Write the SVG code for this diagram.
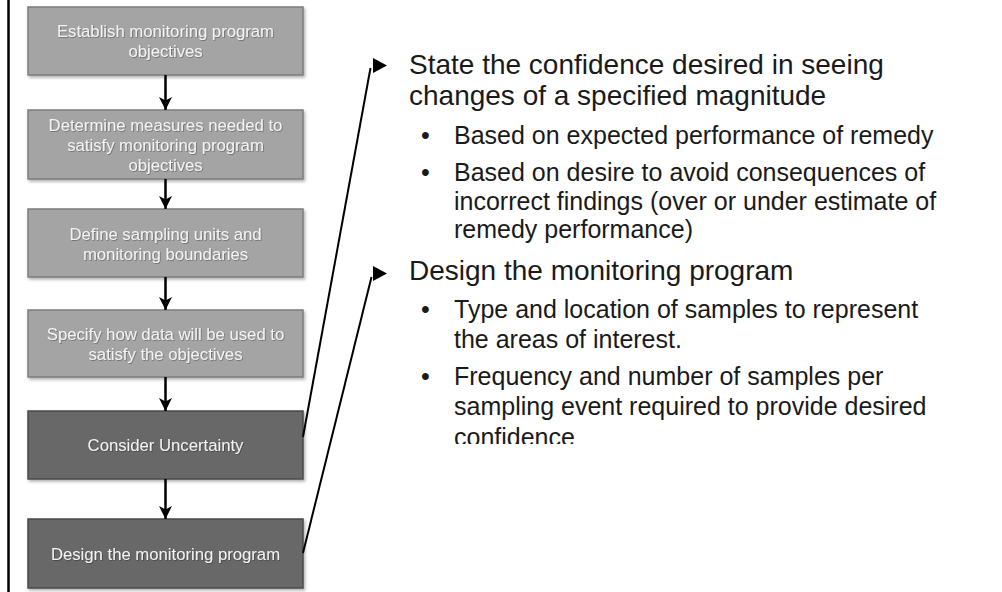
<svg xmlns="http://www.w3.org/2000/svg" width="1002" height="592" viewBox="0 0 1002 592">
<defs>
<style>
.box-light{fill:#a4a4a4;stroke:#7c7c7c;stroke-width:1.5}
.box-dark{fill:#676767;stroke:#4a4a4a;stroke-width:1.5}
.btxt{font-family:"Liberation Sans",Arial,sans-serif;font-size:16.7px;fill:#f3f3f3;text-anchor:middle}
.head{font-family:"Liberation Sans",Arial,sans-serif;font-size:28px;fill:#1a1a1a}
.bul{font-family:"Liberation Sans",Arial,sans-serif;font-size:25px;fill:#1a1a1a}
.flow{stroke:#000;stroke-width:2.5;fill:none}
.link{stroke:#000;stroke-width:2;fill:none}
</style>
<marker id="ah" markerUnits="userSpaceOnUse" markerWidth="14" markerHeight="14" viewBox="0 0 14 14" refX="13" refY="7" orient="auto">
<path d="M0,0.5 L13,7 L0,13.5 L3.5,7 Z" fill="#000"/>
</marker>
<filter id="sh" x="-5%" y="-5%" width="112%" height="120%">
<feDropShadow dx="1.5" dy="2" stdDeviation="1.5" flood-color="#000" flood-opacity="0.3"/>
</filter>
<filter id="tsh" x="-5%" y="-20%" width="110%" height="140%">
<feDropShadow dx="0.8" dy="0.8" stdDeviation="0.6" flood-color="#000" flood-opacity="0.35"/>
</filter>
<clipPath id="clipText">
<rect x="380" y="0" width="622" height="444"/>
</clipPath>
</defs>
<rect width="1002" height="592" fill="#fff"/>
<line x1="8.5" y1="0" x2="8.5" y2="592" stroke="#000" stroke-width="2.5"/>

<g id="node1">
<rect class="box-light" x="28" y="7" width="275" height="68" filter="url(#sh)"/>
<text class="btxt" filter="url(#tsh)"><tspan x="165.5" y="37">Establish monitoring program</tspan><tspan x="165.5" y="57">objectives</tspan></text>
</g>
<g id="node2">
<rect class="box-light" x="28" y="110" width="275" height="69" filter="url(#sh)"/>
<text class="btxt" filter="url(#tsh)"><tspan x="165.5" y="130.5">Determine measures needed to</tspan><tspan x="165.5" y="150.5">satisfy monitoring program</tspan><tspan x="165.5" y="170.5">objectives</tspan></text>
</g>
<g id="node3">
<rect class="box-light" x="28" y="209" width="275" height="68" filter="url(#sh)"/>
<text class="btxt" filter="url(#tsh)"><tspan x="165.5" y="239.5">Define sampling units and</tspan><tspan x="165.5" y="259.5">monitoring boundaries</tspan></text>
</g>
<g id="node4">
<rect class="box-light" x="28" y="310" width="275" height="67" filter="url(#sh)"/>
<text class="btxt" filter="url(#tsh)"><tspan x="165.5" y="340">Specify how data will be used to</tspan><tspan x="165.5" y="360">satisfy the objectives</tspan></text>
</g>
<g id="node5">
<rect class="box-dark" x="28" y="411" width="275" height="68" filter="url(#sh)"/>
<text class="btxt" x="165.5" y="451" filter="url(#tsh)">Consider Uncertainty</text>
</g>
<g id="node6">
<rect class="box-dark" x="28" y="519" width="275" height="69" filter="url(#sh)"/>
<text class="btxt" x="165.5" y="560" filter="url(#tsh)">Design the monitoring program</text>
</g>

<g id="connectors">
<line class="flow" x1="165.5" y1="75" x2="165.5" y2="110" marker-end="url(#ah)"/>
<line class="flow" x1="165.5" y1="179" x2="165.5" y2="209" marker-end="url(#ah)"/>
<line class="flow" x1="165.5" y1="277" x2="165.5" y2="310" marker-end="url(#ah)"/>
<line class="flow" x1="165.5" y1="377" x2="165.5" y2="411" marker-end="url(#ah)"/>
<line class="flow" x1="165.5" y1="479" x2="165.5" y2="519" marker-end="url(#ah)"/>
<line class="link" x1="303" y1="437" x2="370.5" y2="68"/>
<polygon points="373,58 387,65.5 373,73" fill="#000"/>
<line class="link" x1="303" y1="553" x2="371.5" y2="277"/>
<polygon points="373,266 387,273.5 373,281" fill="#000"/>
</g>

<g id="text-panel" clip-path="url(#clipText)">
<text class="head"><tspan x="409" y="73.5">State the confidence desired in seeing</tspan><tspan x="409" y="105">changes of a specified magnitude</tspan></text>
<text class="bul" x="421" y="144">•</text>
<text class="bul" x="454" y="144">Based on expected performance of remedy</text>
<text class="bul" x="421" y="180.5">•</text>
<text class="bul"><tspan x="454" y="180.5">Based on desire to avoid consequences of</tspan><tspan x="454" y="209.5">incorrect findings (over or under estimate of</tspan><tspan x="454" y="237.5">remedy performance)</tspan></text>
<text class="head" x="409" y="280">Design the monitoring program</text>
<text class="bul" x="421" y="318">•</text>
<text class="bul"><tspan x="454" y="318">Type and location of samples to represent</tspan><tspan x="454" y="348">the areas of interest.</tspan></text>
<text class="bul" x="421" y="385">•</text>
<text class="bul"><tspan x="454" y="385">Frequency and number of samples per</tspan><tspan x="454" y="415">sampling event required to provide desired</tspan><tspan x="454" y="446">confidence</tspan></text>
</g>
</svg>
